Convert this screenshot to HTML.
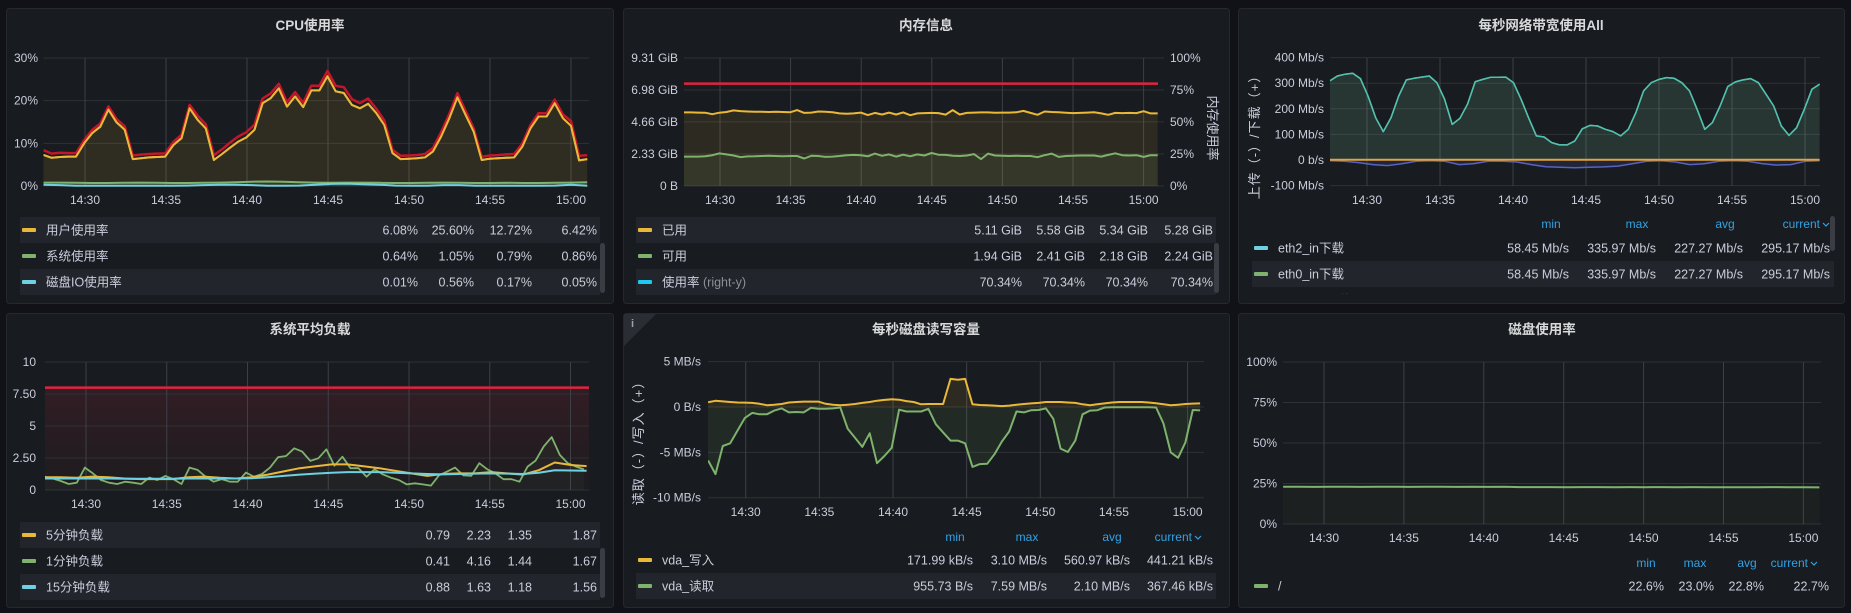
<!DOCTYPE html>
<html><head><meta charset="utf-8">
<style>
html,body{margin:0;padding:0;background:#111217;width:1851px;height:613px;overflow:hidden;}
svg{display:block;font-family:"Liberation Sans","Noto Sans CJK SC",sans-serif;}
</style></head>
<body>
<svg id="dash" width="1851" height="613" viewBox="0 0 1851 613" xmlns="http://www.w3.org/2000/svg">
<defs>
<linearGradient id="redGrad" x1="0" y1="0" x2="0" y2="1">
<stop offset="0" stop-color="#e02f44" stop-opacity="0.13"/>
<stop offset="1" stop-color="#e02f44" stop-opacity="0.02"/>
</linearGradient>
</defs>
<rect x="0" y="0" width="1851" height="613" fill="#111217"/>
</svg>
<script>
// ---------- DATA ----------
const cpuUser = [7.3,6.6,6.8,6.9,6.9,10.0,12.4,13.9,17.9,14.9,13.2,6.3,6.5,6.7,6.8,6.9,9.6,11.2,18.2,15.5,13.5,6.1,7.5,9.0,10.4,11.4,13.2,19.4,20.6,22.9,18.6,21.0,18.5,22.4,22.4,25.7,22.2,21.8,19.0,18.2,19.3,17.1,14.3,7.7,6.3,6.4,6.5,6.7,8.1,11.6,15.9,20.8,16.7,12.8,6.1,6.4,6.5,6.6,6.7,9.2,13.5,16.3,16.3,19.4,15.9,14.1,6.0,6.3];
const cpuSys = [0.8,0.8,0.75,0.7,0.7,0.75,0.8,0.75,0.7,0.7,0.75,0.8,0.9,1.0,1.05,1.0,0.9,0.8,0.75,0.8,0.8,0.75,0.7,0.7,0.75,0.8,0.75,0.7,0.7,0.75,0.7,0.7,0.75,0.8,0.86];
const cpuIO = [0.3,0.2,0.05,0.05,0.05,0.05,0.05,0.05,0.05,0.1,0.2,0.3,0.3,0.2,0.05,0.05,0.1,0.3,0.5,0.56,0.4,0.3,0.1,0.05,0.05,0.2,0.2,0.05,0.05,0.05,0.05,0.05,0.1,0.3,0.05];
const memUsed = [5.35,5.35,5.34,5.33,5.22,5.33,5.38,5.50,5.45,5.42,5.40,5.40,5.38,5.40,5.38,5.36,5.52,5.32,5.34,5.42,5.40,5.36,5.28,5.26,5.28,5.34,5.16,5.32,5.20,5.34,5.20,5.35,5.15,5.28,5.30,5.32,5.30,5.19,5.52,5.20,5.32,5.34,5.35,5.35,5.33,5.34,5.34,5.36,5.46,5.32,5.18,5.42,5.38,5.36,5.33,5.30,5.32,5.34,5.36,5.28,5.18,5.32,5.30,5.32,5.30,5.44,5.28,5.28];
const memFree = [2.14,2.14,2.14,2.16,2.24,2.37,2.30,2.22,2.10,2.15,2.16,2.18,2.20,2.18,2.17,2.18,2.18,2.00,2.20,2.18,2.12,2.14,2.18,2.24,2.26,2.24,2.16,2.36,2.20,2.30,2.14,2.28,2.16,2.30,2.22,2.40,2.28,2.26,2.20,2.18,2.22,2.32,1.96,2.36,2.22,2.20,2.18,2.20,2.18,2.18,2.10,2.24,2.36,2.12,2.18,2.20,2.22,2.22,2.22,2.14,2.26,2.38,2.24,2.22,2.24,2.12,2.24,2.24];
const memThreshold = 80;
const netDown = [309,328,335,339,318,250,165,111,165,250,313,319,324,328,302,237,139,163,218,306,315,323,323,324,302,237,163,94,90,68,59,59,74,122,135,133,120,111,94,120,185,270,302,315,322,319,302,270,198,120,146,211,287,305,313,318,302,257,211,133,96,126,198,276,296];
const netUp = [-3,-5,-10,-18,-22,-15,-5,-3,-5,-18,-14,-5,-5,-8,-18,-26,-28,-30,-28,-27,-24,-15,-5,-3,-8,-18,-15,-5,-3,-5,-14,-20,-18,-5,-3];
const netOther = [1,1,1,1,1,1,1,1,1,1,1,1,1,1,1,1,1,1,1,1,1,1,1,1,1,1,1,1,1,1,1,1,1,1,1];
const load1 = [1.04,0.9,0.7,0.47,0.57,1.75,1.3,0.78,0.57,0.47,0.65,0.57,0.47,0.97,0.78,1.1,0.84,0.47,1.75,1.57,1.04,0.65,0.84,0.65,0.65,1.36,1.04,1.25,1.75,2.56,2.66,3.26,3.0,2.27,2.48,3.18,1.9,2.6,1.7,1.7,1.04,1.62,1.23,0.97,0.78,0.44,0.52,0.44,0.34,1.15,1.44,1.75,1.15,1.1,2.09,1.62,1.3,0.84,0.84,0.65,1.83,2.3,3.4,4.13,2.74,2.09,1.83,1.62];
const load5 = [1.0,1.0,0.95,1.05,1.0,0.9,0.85,0.85,0.85,1.0,1.05,0.95,0.9,1.0,1.2,1.45,1.7,1.85,2.0,2.0,1.85,1.7,1.5,1.3,1.1,1.25,1.3,1.3,1.4,1.3,1.2,1.55,2.15,1.95,1.87];
const load15 = [0.9,0.9,0.9,0.9,0.9,0.88,0.88,0.88,0.88,0.9,0.9,0.9,0.9,0.92,1.0,1.1,1.2,1.28,1.35,1.4,1.4,1.4,1.35,1.3,1.25,1.22,1.25,1.28,1.3,1.28,1.25,1.35,1.55,1.52,1.5];
const loadThreshold = 8;
const diskWrite = [0.52,0.68,0.62,0.55,0.5,0.48,0.45,0.35,0.2,0.25,0.33,0.5,0.55,0.6,0.6,0.6,0.35,0.25,0.19,0.25,0.33,0.45,0.55,0.7,0.78,0.85,0.8,0.65,0.55,0.3,0.33,0.33,0.33,3.1,3.0,3.1,0.3,0.22,0.19,0.15,0.1,0.15,0.25,0.33,0.4,0.45,0.55,0.55,0.55,0.5,0.45,0.3,0.19,0.3,0.4,0.5,0.55,0.55,0.55,0.55,0.5,0.42,0.3,0.19,0.25,0.33,0.37,0.4];
const diskRead = [-5.9,-7.4,-4.3,-4.0,-2.6,-1.2,-0.65,-0.8,-0.8,-0.4,-0.15,-0.6,-0.55,-0.6,-0.1,-0.2,-0.2,-0.15,-0.05,-2.4,-3.4,-4.4,-2.9,-6.2,-5.4,-4.5,-0.3,-0.5,-0.5,-0.5,-0.2,-1.9,-2.8,-3.7,-3.7,-4.0,-6.6,-6.3,-6.26,-5.2,-3.8,-2.7,-0.5,-0.6,-0.35,-0.33,-0.15,-1.3,-4.6,-4.96,-3.7,-0.8,-0.4,-0.35,-0.05,-0.02,-0.02,-0.02,-0.02,-0.02,-0.03,-0.05,-1.8,-5.0,-5.6,-3.9,-0.33,-0.37];
const diskUse = [23.0,23.0,22.9,23.0,23.0,22.9,23.0,23.0,22.9,23.0,23.0,22.9,23.0,22.9,23.0,22.8,22.8,22.8,22.7,22.8,22.8,22.7,22.8,22.7,22.8,22.7,22.8,22.7,22.7,22.7,22.7,22.8,22.7,22.7,22.6];
const timeTicks = [30,35,40,45,50,55,60];
const timeLabels = ['14:30','14:35','14:40','14:45','14:50','14:55','15:00'];
const cpuTicks = [0,10,20,30];
const cpuTickLabels = ['0%','10%','20%','30%'];
const memTicks = [0,2.33,4.66,6.98,9.31];
const memTickLabels = ['0 B','2.33 GiB','4.66 GiB','6.98 GiB','9.31 GiB'];
const memPctTicks = [0,25,50,75,100];
const memPctLabels = ['0%','25%','50%','75%','100%'];
const netTicks = [-100,0,100,200,300,400];
const netTickLabels = ['-100 Mb/s','0 b/s','100 Mb/s','200 Mb/s','300 Mb/s','400 Mb/s'];
const loadTicks = [0,2.5,5,7.5,10];
const loadTickLabels = ['0','2.50','5','7.50','10'];
const ioTicks = [-10,-5,0,5];
const ioTickLabels = ['-10 MB/s','-5 MB/s','0 B/s','5 MB/s'];
const useTicks = [0,25,50,75,100];
const useTickLabels = ['0%','25%','50%','75%','100%'];
const cpuLegendNames = ['用户使用率','系统使用率','磁盘IO使用率'];
const cpuLegendStats = [['6.08%','25.60%','12.72%','6.42%'],['0.64%','1.05%','0.79%','0.86%'],['0.01%','0.56%','0.17%','0.05%']];
const memLegendNames = ['已用','可用','使用率'];
const memLegendStats = [['5.11 GiB','5.58 GiB','5.34 GiB','5.28 GiB'],['1.94 GiB','2.41 GiB','2.18 GiB','2.24 GiB'],['70.34%','70.34%','70.34%','70.34%']];
const netLegendNames = ['eth2_in下载','eth0_in下载','eth2_out上传'];
const netLegendStats = [['58.45 Mb/s','335.97 Mb/s','227.27 Mb/s','295.17 Mb/s'],['58.45 Mb/s','335.97 Mb/s','227.27 Mb/s','295.17 Mb/s'],['0 b/s','30.12 Mb/s','12.40 Mb/s','3.05 Mb/s']];
const loadLegendNames = ['5分钟负载','1分钟负载','15分钟负载'];
const loadLegendStats = [['0.79','2.23','1.35','1.87'],['0.41','4.16','1.44','1.67'],['0.88','1.63','1.18','1.56']];
const ioLegendNames = ['vda_写入','vda_读取'];
const ioLegendStats = [['171.99 kB/s','3.10 MB/s','560.97 kB/s','441.21 kB/s'],['955.73 B/s','7.59 MB/s','2.10 MB/s','367.46 kB/s']];
const useLegendNames = ['/'];
const useLegendStats = [['22.6%','23.0%','22.8%','22.7%']];

// ---------- RENDER ----------
const NS='http://www.w3.org/2000/svg';
const svg=document.getElementById('dash');
const C={yellow:'#eab839',green:'#7eb26d',cyan:'#6ed0e0',teal:'#4fc1b3',red:'#e0233f',blue:'#5663c4',txt:'#ccccdc',hdr:'#33a2e5'};

function mk(tag,name,inter,parent){
  const e=document.createElementNS(NS,tag);
  
  
  (parent||svg).appendChild(e);
  return e;
}
function attrs(e,a){for(const k in a)e.setAttribute(k,a[k]);return e;}
function text(x,y,s,name,o){
  o=o||{};
  const t=mk('text',name,!!o.inter,o.parent);
  attrs(t,{x:x,y:y,fill:o.fill||C.txt,'font-size':o.size||12,'text-anchor':o.anchor||'start','font-weight':o.weight||'normal'});
  if(o.transform)t.setAttribute('transform',o.transform);
  if(o.ls)t.setAttribute('letter-spacing',o.ls);
  t.textContent=s;
  return t;
}
function panel(p,name){
  const g=mk('g',name,false);
  attrs(mk('rect',name+'-background',false,g),{x:p.x+0.5,y:p.y+0.5,width:p.w,height:p.h,rx:3,fill:'#181b1f',stroke:'#25282e'});
  text(p.tx,p.ty,p.title,name+'-title',{parent:g,size:13.5,weight:'bold',anchor:'middle',fill:'#d8d9da'});
  return g;
}
function axisSet(g,cfg,name){
  const xs=cfg.xs, ys=cfg.ys;
  cfg.yt.forEach((v,i)=>{
    const l=mk('line',name+'-h-gridline',false,g);
    attrs(l,{x1:cfg.gx0,x2:cfg.gx1,y1:ys(v),y2:ys(v),stroke:'#2e3136','stroke-width':1});
    text(cfg.ylx,ys(v)+4,cfg.yl[i],name+'-y-tick-label',{parent:g,anchor:'end'});
  });
  timeTicks.forEach((t,i)=>{
    const l=mk('line',name+'-v-gridline',false,g);
    attrs(l,{x1:xs(t),x2:xs(t),y1:cfg.y0,y2:cfg.y1,stroke:'#3d4046','stroke-width':1});
    text(xs(t),cfg.xly,timeLabels[i],name+'-x-tick-label',{parent:g,anchor:'middle'});
  });
}
function series(g,cfg,vals,t0,t1,color,name,o){
  o=o||{};
  const n=vals.length;
  const pts=vals.map((v,i)=>[cfg.xs(t0+i*(t1-t0)/(n-1)),cfg.ys(v)]);
  const d='M'+pts.map(p=>p[0].toFixed(1)+','+p[1].toFixed(1)).join('L');
  if(o.fill){
    const b=cfg.ys(o.base||0);
    const a=mk('path',name+'-area',false,g);
    attrs(a,{d:d+'L'+pts[n-1][0].toFixed(1)+','+b+'L'+pts[0][0].toFixed(1)+','+b+'Z',fill:o.fill,stroke:'none'});
  }
  const l=mk('path',name+'-line',false,g);
  attrs(l,{d:d,fill:'none',stroke:color,'stroke-width':o.w||2,'stroke-linejoin':'round'});
}
function legendRow(g,y,bg,x0,x1,color,name,stats,rights,nm,extra){
  if(bg){attrs(mk('rect',nm+'-row-bg',false,g),{x:x0,y:y-13,width:x1-x0,height:26,fill:'#22252b'});}
  attrs(mk('rect',nm+'-swatch',true,g),{x:x0+2,y:y-2,width:14,height:4,fill:color,rx:1});
  const t=text(x0+26,y+4.5,name,nm+'-label',{parent:g,size:12.5,inter:true});
  if(extra){const s=mk('tspan',nm+'-axis-note',false,t);attrs(s,{fill:'#8e8e9a'});s.textContent=' '+extra;}
  stats.forEach((s,i)=>text(rights[i],y+4.5,s,nm+'-stat',{parent:g,size:12.5,anchor:'end'}));
}
function header(g,y,xs,currentRight,nm){
  ['min','max','avg'].forEach((h,i)=>text(xs[i],y+4,h,nm+'-header-'+h,{parent:g,fill:C.hdr,anchor:'middle',inter:true}));
  text(currentRight-10,y+4,'current','current-header',{parent:g,fill:C.hdr,anchor:'end',inter:true});
  const c=mk('path',nm+'-sort-chevron',true,g);
  attrs(c,{d:`M${currentRight-7},${y-1}l3,3l3,-3`,fill:'none',stroke:C.hdr,'stroke-width':1.2});
}
function clip(id,x,y,w,h){
  const cp=mk('clipPath',id,false,svg);cp.setAttribute('id',id);
  attrs(mk('rect',id+'-rect',false,cp),{x:x,y:y,width:w,height:h});
  return 'url(#'+id+')';
}
function scrollbar(g,x,y,h,nm){attrs(mk('rect',nm,true,g),{x:x,y:y,width:5,height:h,rx:2.5,fill:'#3a3d44'});}

// Panel 1: CPU
{
  const g=panel({x:6,y:8,w:607,h:295,title:'CPU使用率',tx:310,ty:30},'cpu-panel');
  const cfg={xs:t=>85+(t-30)*16.2,ys:v=>186-v/30*128,gx0:43.5,gx1:589,y0:58,y1:186,yt:cpuTicks,yl:cpuTickLabels,ylx:38,xly:204};
  axisSet(g,cfg,'cpu');
  const pg=mk('g','cpu-plot',false,g);pg.setAttribute('clip-path',clip('clipCpu',43.5,50,546,140));
  const t0=27.44,t1=61.0;
  const n2=cpuSys.length;
  const total=cpuUser.map((v,i)=>{const j=Math.round(i*(n2-1)/(cpuUser.length-1));return v+cpuSys[j]+cpuIO[j];});
  series(pg,cfg,cpuUser,t0,t1,C.yellow,'cpu-user',{fill:'rgba(234,184,57,0.11)'});
  series(pg,cfg,total,t0,t1,'#c4162a','cpu-total',{w:2.5});
  series(pg,cfg,cpuUser,t0,t1,C.yellow,'cpu-user-top',{});
  series(pg,cfg,cpuSys,t0,t1,C.green,'cpu-sys',{fill:'rgba(126,178,109,0.1)'});
  series(pg,cfg,cpuIO,t0,t1,C.cyan,'cpu-io',{});
  const cols=[C.yellow,C.green,C.cyan];
  cpuLegendNames.forEach((n,i)=>legendRow(g,230+i*26,i!==1,20,600,cols[i],n,cpuLegendStats[i],[418,474,532,597],'cpu-legend-'+i));
  scrollbar(g,600,243,50,'cpu-legend-scrollbar');
}
// Panel 2: Memory
{
  const g=panel({x:623,y:8,w:606,h:295,title:'内存信息',tx:926,ty:30},'memory-panel');
  const cfg={xs:t=>720+(t-30)*14.12,ys:v=>186-v/9.31*128,gx0:684,gx1:1164,y0:58,y1:186,yt:memTicks,yl:memTickLabels,ylx:678,xly:204};
  axisSet(g,cfg,'mem');
  const pys=v=>186-v/100*128;
  memPctTicks.forEach((v,i)=>text(1170,pys(v)+4,memPctLabels[i],'mem-right-tick-label',{parent:g}));
  text(1208,128,'内存使用率','mem-right-axis-title',{parent:g,anchor:'middle',size:13,transform:'rotate(90 1208 128)'});
  const pg=mk('g','mem-plot',false,g);pg.setAttribute('clip-path',clip('clipMem',684,50,476,140));
  series(pg,cfg,memUsed,27.45,61.0,C.yellow,'mem-used',{fill:'rgba(234,184,57,0.1)'});
  series(pg,cfg,memFree,27.45,61.0,C.green,'mem-free',{fill:'rgba(126,178,109,0.1)'});
  const th=mk('line','mem-threshold-line',false,pg);
  attrs(th,{x1:684,x2:1158,y1:pys(memThreshold),y2:pys(memThreshold),stroke:C.red,'stroke-width':2.5});
  const cols=[C.yellow,C.green,'#1ec8f0'];
  memLegendNames.forEach((n,i)=>legendRow(g,230+i*26,i!==1,636,1216,cols[i],n,memLegendStats[i],[1022,1085,1148,1213],'mem-legend-'+i,i===2?'(right-y)':null));
  scrollbar(g,1214,243,50,'mem-legend-scrollbar');
}
// Panel 3: Network
{
  const g=panel({x:1238,y:8,w:606,h:295,title:'每秒网络带宽使用All',tx:1541,ty:30},'network-panel');
  const cfg={xs:t=>1367+(t-30)*14.6,ys:v=>160-v*0.256,gx0:1330,gx1:1820,y0:58,y1:186,yt:netTicks,yl:netTickLabels,ylx:1324,xly:204};
  axisSet(g,cfg,'net');
  text(1259,134,'上传（-）/下载（+）','net-y-axis-title',{parent:g,anchor:'middle',size:13,ls:1,transform:'rotate(-90 1259 134)'});
  const pg=mk('g','net-plot',false,g);pg.setAttribute('clip-path',clip('clipNet',1330,50,490,140));
  series(pg,cfg,netDown,27.45,61.0,C.green,'net-eth0-in',{fill:'rgba(126,178,109,0.1)',w:1.5});
  series(pg,cfg,netDown,27.45,61.0,C.teal,'net-eth2-in',{fill:'rgba(110,208,224,0.07)',w:1.5});
  series(pg,cfg,netUp,27.45,61.0,C.blue,'net-out',{fill:'rgba(86,99,196,0.15)',w:1.5});
  series(pg,cfg,netOther,27.45,61.0,'#e5a23a','net-other',{w:2});
  const lg=mk('g','net-legend',false,g);lg.setAttribute('clip-path',clip('clipNetLeg',1240,210,600,84));
  header(lg,224,[1551,1637,1725],1830,'net');
  const cols=[C.cyan,C.green,C.blue];
  netLegendNames.forEach((n,i)=>legendRow(lg,248+i*26,i===1,1252,1834,cols[i],n,netLegendStats[i],[1569,1656,1743,1830],'net-legend-'+i));
  scrollbar(g,1830,216,35,'net-legend-scrollbar');
}
// Panel 4: Load
{
  const g=panel({x:6,y:313,w:607,h:294,title:'系统平均负载',tx:310,ty:334},'load-panel');
  const cfg={xs:t=>86+(t-30)*16.15,ys:v=>490-v*12.8,gx0:45,gx1:589,y0:362,y1:490,yt:loadTicks,yl:loadTickLabels,ylx:36,xly:508};
  const tz=mk('rect','load-threshold-zone',false,g);
  attrs(tz,{x:45,y:cfg.ys(loadThreshold),width:544,height:cfg.ys(0)-cfg.ys(loadThreshold),fill:'url(#redGrad)'});
  axisSet(g,cfg,'load');
  const pg=mk('g','load-plot',false,g);pg.setAttribute('clip-path',clip('clipLoad',45,355,544,140));
  series(pg,cfg,load1,27.44,60.83,C.green,'load-1m',{fill:'rgba(126,178,109,0.05)',w:1.8});
  series(pg,cfg,load5,27.44,61.0,C.yellow,'load-5m',{w:2});
  series(pg,cfg,load15,27.44,61.0,C.cyan,'load-15m',{w:2});
  const th=mk('line','load-threshold-line',false,pg);
  attrs(th,{x1:45,x2:589,y1:cfg.ys(loadThreshold),y2:cfg.ys(loadThreshold),stroke:C.red,'stroke-width':2.5});
  const cols=[C.yellow,C.green,C.cyan];
  loadLegendNames.forEach((n,i)=>legendRow(g,535+i*26,i!==1,20,600,cols[i],n,loadLegendStats[i],[450,491,532,597],'load-legend-'+i));
  scrollbar(g,600,548,50,'load-legend-scrollbar');
}
// Panel 5: Disk IO
{
  const g=panel({x:623,y:313,w:606,h:294,title:'每秒磁盘读写容量',tx:926,ty:334},'disk-io-panel');
  const ic=mk('path','panel-info-corner',true,g);
  attrs(ic,{d:'M624,314h32l-32,32z',fill:'#2a2d33'});
  text(631,327,'i','panel-info-icon',{parent:g,size:11,weight:'bold',fill:'#9fa1a6',inter:true});
  const cfg={xs:t=>745.7+(t-30)*14.73,ys:v=>407-v*9.07,gx0:708,gx1:1204,y0:362,y1:498,yt:ioTicks,yl:ioTickLabels,ylx:701,xly:516};
  axisSet(g,cfg,'io');
  text(643,440,'读取（-）/写入（+）','io-y-axis-title',{parent:g,anchor:'middle',size:13,ls:1,transform:'rotate(-90 643 440)'});
  const pg=mk('g','io-plot',false,g);pg.setAttribute('clip-path',clip('clipIo',708,355,496,150));
  series(pg,cfg,diskRead,27.45,60.85,C.green,'io-read',{fill:'rgba(126,178,109,0.1)',w:2});
  series(pg,cfg,diskWrite,27.45,60.85,C.yellow,'io-write',{fill:'rgba(234,184,57,0.1)',w:2});
  header(g,537,[955,1027,1112],1202,'io');
  const cols=[C.yellow,C.green];
  ioLegendNames.forEach((n,i)=>legendRow(g,560+i*26,i===1,636,1216,cols[i],n,ioLegendStats[i],[973,1047,1130,1213],'io-legend-'+i));
}
// Panel 6: Disk usage
{
  const g=panel({x:1238,y:313,w:606,h:294,title:'磁盘使用率',tx:1542,ty:334},'disk-usage-panel');
  const cfg={xs:t=>1324+(t-30)*15.98,ys:v=>524-v*1.62,gx0:1283,gx1:1821,y0:362,y1:524,yt:useTicks,yl:useTickLabels,ylx:1277,xly:542};
  axisSet(g,cfg,'use');
  const pg=mk('g','use-plot',false,g);pg.setAttribute('clip-path',clip('clipUse',1283,355,538,175));
  series(pg,cfg,diskUse,27.44,61.0,C.green,'use-root',{fill:'rgba(126,178,109,0.04)',w:2});
  header(g,563,[1646,1695,1747],1818,'use');
  useLegendNames.forEach((n,i)=>legendRow(g,586+i*26,false,1252,1834,C.green,n,useLegendStats[i],[1664,1714,1764,1829],'use-legend-'+i));
}
</script>
</body></html>
